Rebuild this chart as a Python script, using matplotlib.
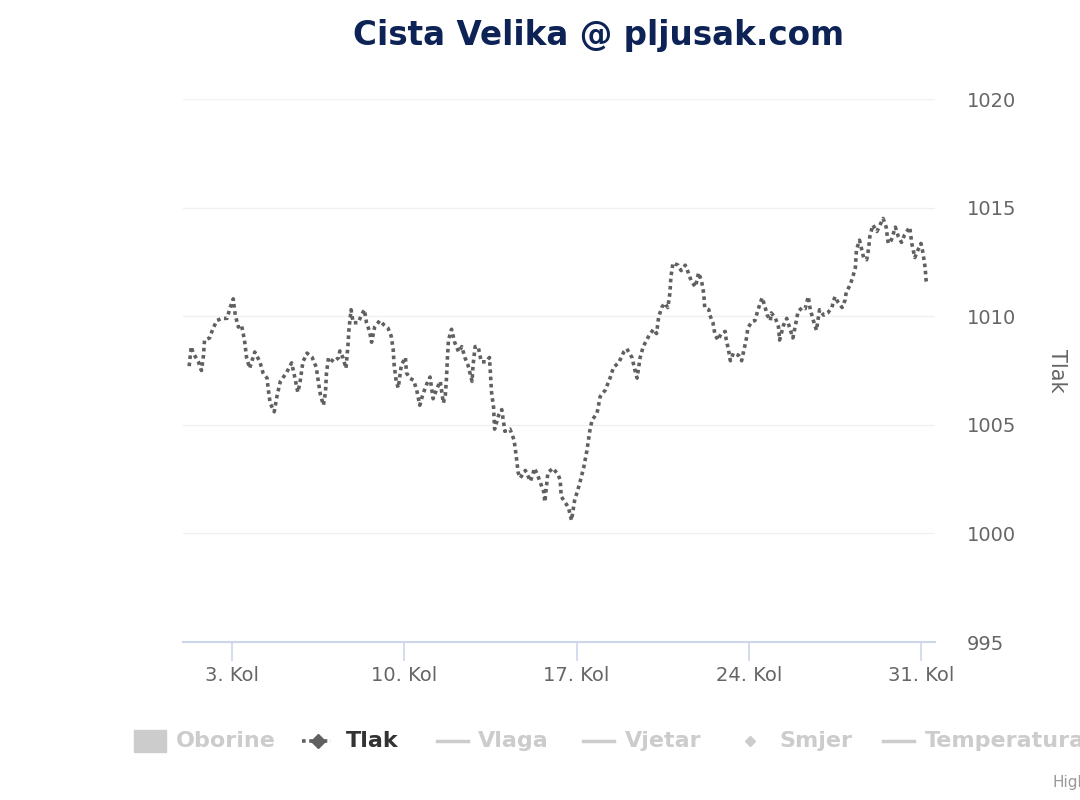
import matplotlib.pyplot as plt
from matplotlib.lines import Line2D
from matplotlib.patches import Rectangle
import numpy as np

# tlak (hPa), sati od 1. kolovoza 00:00
hours = [6, 8, 10, 15, 18, 20, 21, 26, 29, 33, 38, 43, 46, 49, 51, 54, 57, 60, 62, 65,
         70, 75, 78, 82, 83, 85, 89, 92, 95, 101, 106, 109, 112, 114, 117, 121, 126, 130, 132, 134,
         137, 139, 140, 142, 147, 152, 153, 156, 159, 161, 162, 164, 166, 171, 174, 177, 179, 182, 184, 187,
         192, 196, 200, 203, 205, 206, 208, 210, 213, 217, 218, 221, 225, 228, 231, 234, 238, 241, 244, 248,
         251, 254, 256, 257, 258, 259, 262, 265, 269, 272, 275, 278, 282, 283, 285, 288, 291, 296, 299, 300,
         301, 303, 304, 308, 311, 314, 319, 323, 325, 327, 329, 334, 339, 343, 347, 352, 353, 356, 361, 366,
         368, 369, 376, 379, 382, 387, 391, 394, 397, 399, 404, 407, 412, 417, 420, 425, 430, 433, 438, 441,
         443, 446, 449, 454, 459, 462, 464, 467, 470, 473, 475, 476, 478, 483, 486, 490, 493, 496, 500, 503,
         506, 508, 509, 513, 514, 517, 519, 522, 525, 529, 530, 532, 534, 537, 542, 545, 548, 550, 551, 555,
         558, 561, 565, 568, 570, 573, 574, 578, 581, 582, 586, 589, 592, 595, 598, 600, 604, 607, 610, 612,
         615, 618, 621, 625, 629, 633, 636, 639, 643, 646, 647, 651, 654, 656, 657, 660, 664, 667, 669, 670,
         673, 677, 680, 683, 686, 688, 691, 695, 698, 701, 704, 709, 711, 714, 717, 720, 722, 724, 725, 726]
tlak = [1007.7, 1008.6, 1008.3, 1007.9, 1007.5, 1008.2, 1008.9, 1009.0, 1009.4, 1009.8,
        1009.9, 1009.9, 1010.4, 1010.8, 1010.05, 1009.5, 1009.6, 1008.9, 1008.1, 1007.6,
        1008.35, 1007.9, 1007.4, 1007.15, 1006.7, 1006.0, 1005.6, 1006.4, 1007.0, 1007.4,
        1007.85, 1007.2, 1006.5, 1006.9, 1007.9, 1008.3, 1008.1, 1007.65, 1007.0, 1006.4,
        1005.9, 1006.5, 1007.4, 1008.1, 1007.9, 1008.1, 1008.4, 1008.1, 1007.6, 1008.7,
        1009.45, 1010.3, 1009.7, 1009.7, 1010.05, 1010.3, 1009.7, 1009.3, 1008.8, 1009.5,
        1009.8, 1009.6, 1009.45, 1009.1, 1008.5, 1007.75, 1007.0, 1006.7, 1007.75, 1008.1,
        1007.4, 1007.15, 1007.05, 1006.6, 1005.9, 1006.4, 1006.9, 1007.2, 1006.2, 1006.7,
        1007.0, 1006.0, 1006.4, 1007.1, 1008.1, 1008.9, 1009.4, 1008.8, 1008.35, 1008.6,
        1008.1, 1007.75, 1007.0, 1007.75, 1008.6, 1008.6, 1007.9, 1007.9, 1008.1, 1007.3,
        1006.5, 1005.8, 1004.8, 1005.45, 1005.7, 1004.7, 1004.8, 1004.3, 1003.6, 1002.8,
        1002.55, 1002.9, 1002.4, 1003.0, 1002.55, 1001.9, 1001.45, 1002.8, 1003.0, 1002.7,
        1002.45, 1001.7, 1001.2, 1000.6, 1001.5, 1002.3, 1003.05, 1003.8, 1004.75, 1005.2,
        1005.55, 1006.3, 1006.6, 1007.2, 1007.65, 1007.85, 1008.35, 1008.5, 1008.1, 1007.5,
        1007.15, 1008.1, 1008.6, 1009.05, 1009.4, 1009.2, 1009.95, 1010.4, 1010.6, 1010.4,
        1011.05, 1011.8, 1012.45, 1012.35, 1012.1, 1012.35, 1012.0, 1011.6, 1011.35, 1012.0,
        1011.6, 1011.05, 1010.4, 1010.3, 1010.05, 1009.7, 1009.15, 1008.9, 1009.2, 1009.3,
        1008.9, 1008.5, 1007.95, 1008.3, 1008.2, 1007.95, 1008.6, 1009.05, 1009.45, 1009.75,
        1009.8, 1010.3, 1010.85, 1010.4, 1010.05, 1009.8, 1010.15, 1009.9, 1009.5, 1008.9,
        1009.6, 1009.9, 1009.45, 1009.0, 1009.7, 1010.2, 1010.4, 1010.35, 1010.9, 1010.3,
        1009.8, 1009.35, 1010.3, 1010.05, 1010.15, 1010.4, 1010.9, 1010.65, 1010.4, 1010.75,
        1011.1, 1011.45, 1011.9, 1012.25, 1013.05, 1013.5, 1012.7, 1012.6, 1013.15, 1013.65,
        1014.2, 1013.9, 1014.2, 1014.5, 1014.1, 1013.35, 1013.5, 1014.1, 1013.65, 1013.4,
        1013.75, 1014.1, 1013.35, 1012.7, 1013.05, 1013.35, 1012.9, 1012.25, 1011.65, 1011.45]

tick_days = [3, 10, 17, 24, 31]
tick_labels = ['3. Kol', '10. Kol', '17. Kol', '24. Kol', '31. Kol']
y_ticks = [995, 1000, 1005, 1010, 1015, 1020]

legend_names = ['Oborine', 'Tlak', 'Vlaga', 'Vjetar', 'Smjer', 'Temperatura']

days = 1 + np.array(hours) / 24.0

fig = plt.figure(figsize=(10.8, 8), dpi=100)
ax = fig.add_axes([183 / 1080, 1 - 642 / 800, (935 - 183) / 1080, (642 - 99) / 800])

ax.plot(days, tlak, color='#606060', lw=2.6, linestyle=(0, (1, 1)), dash_capstyle='butt')

ax.set_xlim(1, 1 + (935 - 183) / 24.6)
ax.set_ylim(995, 1020)
ax.set_yticks(y_ticks)
ax.set_xticks(tick_days)
ax.set_xticklabels(tick_labels)
ax.yaxis.tick_right()
ax.yaxis.set_label_position('right')
ax.grid(axis='y', color='#f0f0f0', lw=1)
ax.set_axisbelow(True)
for s in ['top', 'left', 'right']:
    ax.spines[s].set_visible(False)
ax.spines['bottom'].set_color('#ccd6eb')
ax.spines['bottom'].set_linewidth(1.5)
ax.tick_params(axis='x', colors='#666666', labelsize=14, length=14, width=1.2, pad=3)
ax.tick_params(axis='x', color='#ccd6eb')
ax.tick_params(axis='y', colors='#666666', labelsize=14, length=0, pad=23)
ax.set_ylabel('Tlak', color='#666666', fontsize=15, rotation=270, labelpad=22, va='bottom')

fig.text(599 / 1080, 1 - 36 / 800, 'Cista Velika @ pljusak.com', ha='center', va='center',
         fontsize=23.5, fontweight='bold', color='#0d2356')

# legenda
ly = 1 - 741 / 800
hid = '#cccccc'
fig.add_artist(Rectangle((134 / 1080, ly - 11 / 800), 32 / 1080, 22 / 800,
                         transform=fig.transFigure, color=hid))
fig.add_artist(Line2D([302 / 1080, 331 / 1080], [ly, ly], transform=fig.transFigure,
                      color='#606060', lw=2.6, linestyle=(0, (1, 1))))
fig.add_artist(Line2D([318 / 1080], [ly], transform=fig.transFigure, marker='D',
                      markersize=7.5, color='#606060'))
for x0 in [437, 583, 883]:
    fig.add_artist(Line2D([x0 / 1080, (x0 + 31) / 1080], [ly, ly], transform=fig.transFigure,
                          color=hid, lw=2.5))
fig.add_artist(Line2D([750 / 1080], [ly], transform=fig.transFigure, marker='D',
                      markersize=5.5, color=hid))
text_x = [176, 346, 478, 625, 779, 925]
for name, tx in zip(legend_names, text_x):
    c = '#333333' if name == 'Tlak' else hid
    fig.text(tx / 1080, ly, name, ha='left', va='center', fontsize=16, fontweight='bold', color=c)

# u originalu su zadnja stavka legende i potpis odrezani rubom slike
fig.text(1052 / 1080, 1 - 783 / 800, 'Highcharts.com', ha='left', va='center',
         fontsize=11, color='#999999')

fig.savefig('out.png', dpi=100)
